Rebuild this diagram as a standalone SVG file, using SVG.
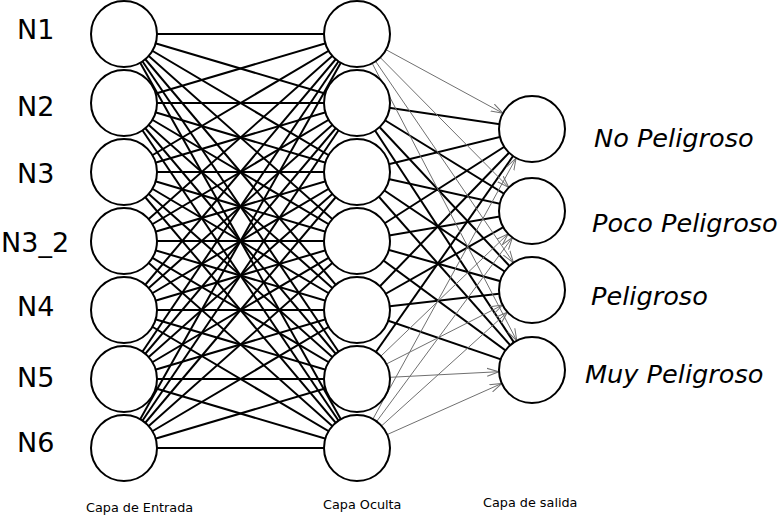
<svg xmlns="http://www.w3.org/2000/svg" width="781" height="516" viewBox="0 0 781 516">
<style>
.w{stroke:#000;stroke-width:2;fill:none}
.t{stroke:#707070;stroke-width:1;fill:none;marker-end:url(#ah)}
.n{fill:#fff;stroke:#000;stroke-width:2}
.lab{font-family:"DejaVu Sans",sans-serif;font-size:27px;fill:#000}
.out{font-family:"DejaVu Sans",sans-serif;font-size:25.6px;font-style:italic;fill:#000}
.cap{font-family:"DejaVu Sans",sans-serif;font-size:12.8px;fill:#000}
</style>
<defs>
<marker id="ah" viewBox="0 0 12 10" refX="12" refY="5" markerWidth="12" markerHeight="10" markerUnits="userSpaceOnUse" orient="auto">
<path d="M0,1 L12,5 L0,9" fill="none" stroke="#707070" stroke-width="1"/>
</marker>
</defs>
<rect width="781" height="516" fill="#fff"/>
<g id="connectors">
<g class="w">
<line x1="124" y1="34" x2="357" y2="34"/><line x1="124" y1="34" x2="357" y2="103"/><line x1="124" y1="34" x2="357" y2="172"/><line x1="124" y1="34" x2="357" y2="241"/><line x1="124" y1="34" x2="357" y2="310"/><line x1="124" y1="34" x2="357" y2="379"/><line x1="124" y1="34" x2="357" y2="448"/>
<line x1="124" y1="103" x2="357" y2="34"/><line x1="124" y1="103" x2="357" y2="103"/><line x1="124" y1="103" x2="357" y2="172"/><line x1="124" y1="103" x2="357" y2="241"/><line x1="124" y1="103" x2="357" y2="310"/><line x1="124" y1="103" x2="357" y2="379"/><line x1="124" y1="103" x2="357" y2="448"/>
<line x1="124" y1="172" x2="357" y2="34"/><line x1="124" y1="172" x2="357" y2="103"/><line x1="124" y1="172" x2="357" y2="172"/><line x1="124" y1="172" x2="357" y2="241"/><line x1="124" y1="172" x2="357" y2="310"/><line x1="124" y1="172" x2="357" y2="379"/><line x1="124" y1="172" x2="357" y2="448"/>
<line x1="124" y1="241" x2="357" y2="34"/><line x1="124" y1="241" x2="357" y2="103"/><line x1="124" y1="241" x2="357" y2="172"/><line x1="124" y1="241" x2="357" y2="241"/><line x1="124" y1="241" x2="357" y2="310"/><line x1="124" y1="241" x2="357" y2="379"/><line x1="124" y1="241" x2="357" y2="448"/>
<line x1="124" y1="310" x2="357" y2="34"/><line x1="124" y1="310" x2="357" y2="103"/><line x1="124" y1="310" x2="357" y2="172"/><line x1="124" y1="310" x2="357" y2="241"/><line x1="124" y1="310" x2="357" y2="310"/><line x1="124" y1="310" x2="357" y2="379"/><line x1="124" y1="310" x2="357" y2="448"/>
<line x1="124" y1="379" x2="357" y2="34"/><line x1="124" y1="379" x2="357" y2="103"/><line x1="124" y1="379" x2="357" y2="172"/><line x1="124" y1="379" x2="357" y2="241"/><line x1="124" y1="379" x2="357" y2="310"/><line x1="124" y1="379" x2="357" y2="379"/><line x1="124" y1="379" x2="357" y2="448"/>
<line x1="124" y1="448" x2="357" y2="34"/><line x1="124" y1="448" x2="357" y2="103"/><line x1="124" y1="448" x2="357" y2="172"/><line x1="124" y1="448" x2="357" y2="241"/><line x1="124" y1="448" x2="357" y2="310"/><line x1="124" y1="448" x2="357" y2="379"/><line x1="124" y1="448" x2="357" y2="448"/>
<line x1="357" y1="103" x2="532" y2="129"/><line x1="357" y1="103" x2="532" y2="211"/><line x1="357" y1="103" x2="532" y2="290"/><line x1="357" y1="103" x2="532" y2="370"/>
<line x1="357" y1="172" x2="532" y2="129"/><line x1="357" y1="172" x2="532" y2="211"/><line x1="357" y1="172" x2="532" y2="290"/><line x1="357" y1="172" x2="532" y2="370"/>
<line x1="357" y1="241" x2="532" y2="129"/><line x1="357" y1="241" x2="532" y2="211"/><line x1="357" y1="241" x2="532" y2="290"/><line x1="357" y1="241" x2="532" y2="370"/>
<line x1="357" y1="310" x2="532" y2="129"/><line x1="357" y1="310" x2="532" y2="211"/><line x1="357" y1="310" x2="532" y2="290"/><line x1="357" y1="310" x2="532" y2="370"/>
<line x1="357" y1="379" x2="532" y2="129"/>
</g>
<g>
<line class="t" x1="386" y1="49.7" x2="503" y2="113.3"/>
<line class="t" x1="380.2" y1="57.5" x2="508.8" y2="187.5"/>
<line class="t" x1="375.6" y1="61.3" x2="513.4" y2="262.7"/>
<line class="t" x1="372.2" y1="63.3" x2="516.8" y2="340.7"/>
<line class="t" x1="380.8" y1="356.2" x2="508.2" y2="233.8"/>
<line class="t" x1="386.4" y1="364" x2="502.6" y2="305"/>
<line class="t" x1="390" y1="377.3" x2="499" y2="371.7"/>
<line class="t" x1="372.9" y1="419.1" x2="516.1" y2="158.1"/>
<line class="t" x1="376.6" y1="421.5" x2="512.4" y2="237.5"/>
<line class="t" x1="381.5" y1="425.9" x2="507.5" y2="312.1"/>
<line class="t" x1="387.1" y1="434.6" x2="501.9" y2="383.4"/>
</g>
</g>
<g id="in1"><circle class="n" cx="124" cy="34" r="33"/><text class="lab" x="17" y="39">N1</text></g>
<g id="in2"><circle class="n" cx="124" cy="103" r="33"/><text class="lab" x="17" y="116">N2</text></g>
<g id="in3"><circle class="n" cx="124" cy="172" r="33"/><text class="lab" x="17" y="183">N3</text></g>
<g id="in4"><circle class="n" cx="124" cy="241" r="33"/><text class="lab" x="1" y="252">N3_2</text></g>
<g id="in5"><circle class="n" cx="124" cy="310" r="33"/><text class="lab" x="17" y="316">N4</text></g>
<g id="in6"><circle class="n" cx="124" cy="379" r="33"/><text class="lab" x="17" y="387">N5</text></g>
<g id="in7"><circle class="n" cx="124" cy="448" r="33"/><text class="lab" x="17" y="452">N6</text></g>
<g id="h1"><circle class="n" cx="357" cy="34" r="33"/></g>
<g id="h2"><circle class="n" cx="357" cy="103" r="33"/></g>
<g id="h3"><circle class="n" cx="357" cy="172" r="33"/></g>
<g id="h4"><circle class="n" cx="357" cy="241" r="33"/></g>
<g id="h5"><circle class="n" cx="357" cy="310" r="33"/></g>
<g id="h6"><circle class="n" cx="357" cy="379" r="33"/></g>
<g id="h7"><circle class="n" cx="357" cy="448" r="33"/></g>
<g id="o1"><circle class="n" cx="532" cy="129" r="33"/><text class="out" x="594" y="147">No Peligroso</text></g>
<g id="o2"><circle class="n" cx="532" cy="211" r="33"/><text class="out" x="592" y="232">Poco Peligroso</text></g>
<g id="o3"><circle class="n" cx="532" cy="290" r="33"/><text class="out" x="591" y="305">Peligroso</text></g>
<g id="o4"><circle class="n" cx="532" cy="370" r="33"/><text class="out" x="585" y="383">Muy Peligroso</text></g>
<g id="captions">
<text class="cap" x="86" y="512">Capa de Entrada</text>
<text class="cap" x="323" y="509">Capa Oculta</text>
<text class="cap" x="483" y="507">Capa de salida</text>
</g>
</svg>
